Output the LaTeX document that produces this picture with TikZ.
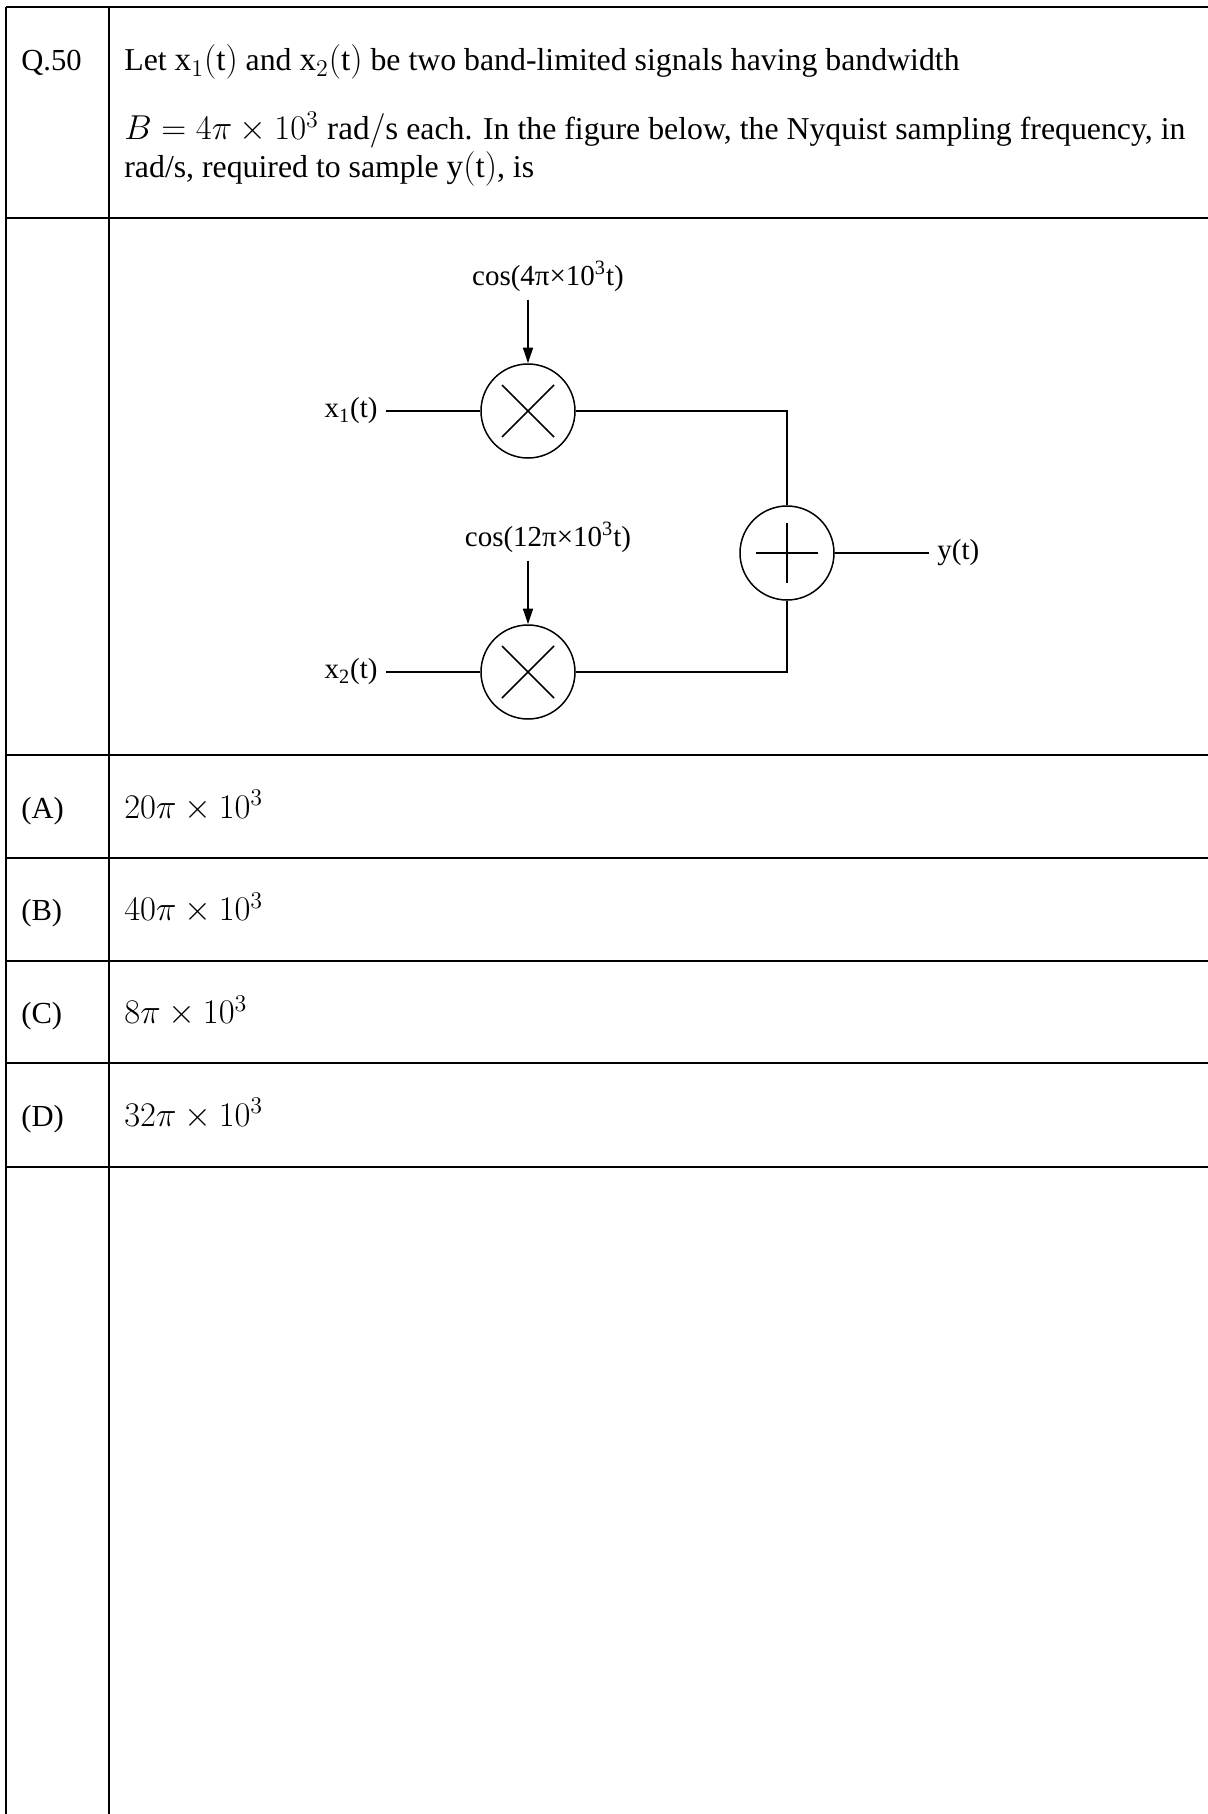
\documentclass[tikz,border=0pt]{standalone}
\usepackage{fontspec}
\setmainfont{Liberation Serif}
\usepackage{tikz}
\usetikzlibrary{arrows.meta}

\newcommand{\qmath}[1]{{\fontsize{16.6}{20}\selectfont #1}}

\tikzset{
  rule/.style={line width=0.85pt},
  wire/.style={line width=0.75pt},
  body/.style={anchor=base west, inner sep=0pt, font=\fontsize{15.9}{19}\selectfont},
  qcol/.style={anchor=base west, inner sep=0pt, font=\fontsize{15.3}{18}\selectfont},
  lbl/.style={inner sep=4pt, font=\fontsize{14.5}{17}\selectfont},
  mixer/.style={circle, draw, wire, minimum size=47pt, inner sep=0pt,
    path picture={\draw[wire] (path picture bounding box.center) ++(-13pt,-13pt) -- ++(26pt,26pt)
      (path picture bounding box.center) ++(-13pt,13pt) -- ++(26pt,-26pt);}},
  adder/.style={circle, draw, wire, minimum size=47pt, inner sep=0pt,
    path picture={\draw[wire] (path picture bounding box.center) ++(-15.5pt,0) -- ++(31pt,0)
      (path picture bounding box.center) ++(0,-15pt) -- ++(0,30pt);}},
}

\begin{document}
\begin{tikzpicture}[x=0.5pt, y=-0.5pt]
        \useasboundingbox (0,0) rectangle (1208,1814);

        % table
        \foreach \y in {7,218,755,858,961,1063,1167}
            \draw[rule] (6,\y) -- (1208,\y);
        \draw[rule] (6,7) -- (6,1814);
        \draw[rule] (109,7) -- (109,1814);

        % question
        \node[qcol] (qno) at (21,71) {Q.50};
        \node[body] (ln1) at (124,71) {Let \qmath{$\mathrm{x}_1(\mathrm{t})$} and \qmath{$\mathrm{x}_2(\mathrm{t})$} be two band-limited signals having bandwidth};
        \node[body] (ln2) at (124,140) {\qmath{$B=4\pi\times10^3\ \mathrm{rad/s}$} each. In the figure below, the Nyquist sampling frequency, in};
        \node[body] (ln3) at (124,177) {rad/s, required to sample \qmath{$\mathrm{y}(\mathrm{t})$}, is};

        % block diagram
        \node[mixer] (m1) at (528,411) {};
        \node[mixer] (m2) at (528,672) {};
        \node[adder] (add) at (787,553) {};
        \node[lbl, anchor=east] (x1) at (386,411) {x\textsubscript{1}(t)};
        \node[lbl, anchor=east] (x2) at (386,672) {x\textsubscript{2}(t)};
        \node[lbl, anchor=base] (c1) at (548,285) {cos(4π×10\textsuperscript{3}t)};
        \node[lbl, anchor=base] (c2) at (548,546) {cos(12π×10\textsuperscript{3}t)};
        \node[lbl, anchor=west] (yt) at (929,553) {y(t)};

        \draw[wire] (x1) -- (m1);
        \draw[wire] (x2) -- (m2);
        \draw[wire, -{Triangle[length=7.8pt,width=5pt]}] (c1.south -| m1) -- (m1);
        \draw[wire, -{Triangle[length=7.8pt,width=5pt]}] (c2.south -| m2) -- (m2);
        \draw[wire] (m1) -| (add);
        \draw[wire] (m2) -| (add);
        \draw[wire] (add) -- (yt);

        % options
        \foreach \lab/\val [count=\i from 0] in {A/20,B/40,C/8,D/32}{
            \node[qcol] (opt\lab) at (21,{818+102.8*\i}) {(\lab)};
            \node[body] (ans\lab) at (124,{818+102.8*\i}) {\qmath{$\val\pi\times10^3$}};
        }
\end{tikzpicture}
\end{document}
